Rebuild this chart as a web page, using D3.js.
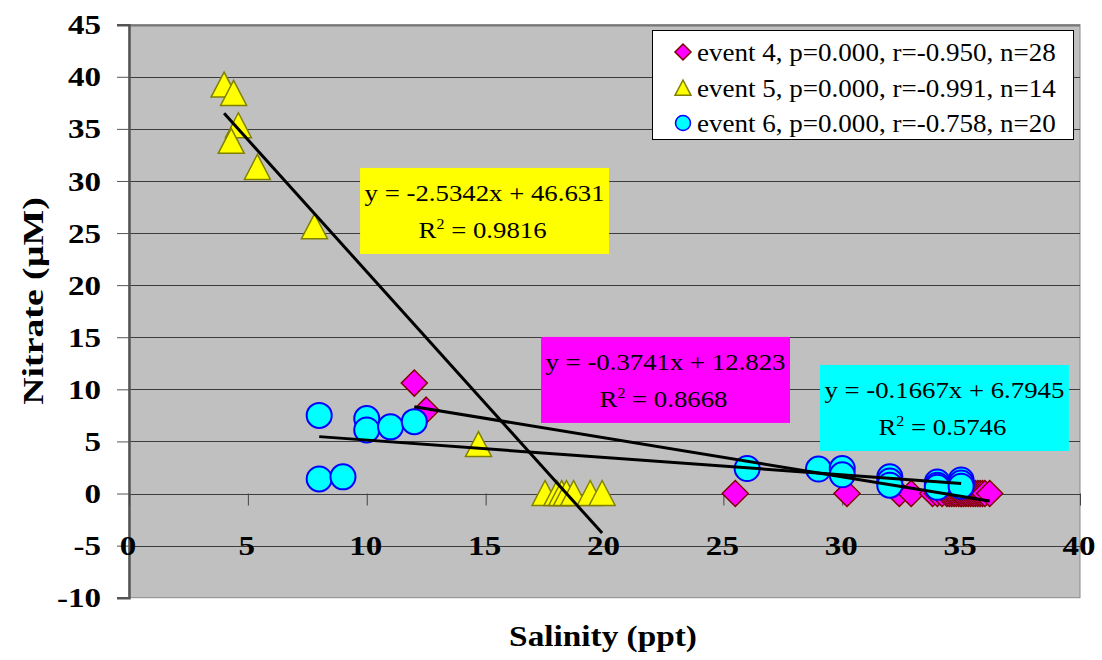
<!DOCTYPE html>
<html>
<head>
<meta charset="utf-8">
<script src="https://cdn.jsdelivr.net/npm/d3@7"></script>
<style>
  html, body { margin: 0; padding: 0; background: #ffffff; }
  svg { display: block; }
  text { font-family: "Liberation Serif", "Times New Roman", serif; fill: #000; }
</style>
</head>
<body>
<svg id="chart" width="1102" height="660"></svg>
<script>
// ---------------- data ----------------
const xTicks = [0, 5, 10, 15, 20, 25, 30, 35, 40];
const yTicks = [-10, -5, 0, 5, 10, 15, 20, 25, 30, 35, 40, 45];

// event 4 (magenta diamonds)
const event4X = [12.0, 12.5, 25.5, 30.2, 32.4, 32.9, 33.8, 34.0, 34.2, 34.4, 34.5, 34.6, 34.7, 34.8,
                 34.9, 35.0, 35.0, 35.1, 35.2, 35.3, 35.4, 35.5, 35.6, 35.7, 35.8, 35.9, 36.0, 36.2];
const event4Y = [10.6, 8.0, 0, 0, 0, 0, 0, 0, 0, 0, 0, 0, 0, 0,
                 0, 0, 0, 0, 0, 0, 0, 0, 0, 0, 0, 0, 0, 0];
// event 5 (yellow triangles)
const event5X = [4.0, 4.4, 4.6, 4.3, 5.4, 7.8, 14.7, 17.5, 18.0, 18.2, 18.4, 18.7, 19.4, 19.9];
const event5Y = [39.2, 38.4, 35.3, 33.8, 31.3, 25.6, 4.7, 0, 0, 0, 0, 0, 0, 0];
// event 6 (cyan circles)
const event6X = [8.0, 10.0, 10.0, 11.0, 12.0, 8.0, 9.0, 26.0, 29.0, 30.0, 30.0, 32.0, 32.0, 32.0,
                 34.0, 34.0, 34.0, 35.0, 35.0, 35.0];
const event6Y = [7.5, 7.2, 6.1, 6.4, 6.9, 1.4, 1.6, 2.4, 2.35, 2.4, 1.8, 1.6, 1.2, 0.8,
                 1.1, 0.8, 0.6, 1.3, 1.0, 0.7];

const seriesNames = ["event 4, p=0.000, r=-0.950, n=28",
                     "event 5, p=0.000, r=-0.991, n=14",
                     "event 6, p=0.000, r=-0.758, n=20"];
const slopes = [-0.3741, -2.5342, -0.1667];
const intercepts = [12.823, 46.631, 6.7945];
const equations = ["y = -0.3741x + 12.823", "y = -2.5342x + 46.631", "y = -0.1667x + 6.7945"];
const r2Values = ["0.8668", "0.9816", "0.5746"];
// equation label anchors (top-left corner, in data units)
const labelX = [17.33, 9.72, 29.06];
const labelY = [15.03, 31.25, 12.34];

const xTitle = "Salinity (ppt)";
const yTitle = "Nitrate (µM)";

// ---------------- chart ----------------
const svg = d3.select("#chart");
const x = d3.scaleLinear().domain([0, 40]).range([129, 1080]);
const y = d3.scaleLinear().domain([-10, 45]).range([597.7, 24.7]);

const fills = ["#FF00FF", "#FFFF00", "#00FFFF"];
const strokes = ["#800000", "#808000", "#0000FF"];

function stext(parent, px, py, str, o) {
  const g = parent.append("g")
    .attr("transform", `translate(${px},${py}) rotate(${o.rot || 0}) scale(${o.sx || 1},1)`);
  return g.append("text")
    .attr("text-anchor", o.anchor || "middle")
    .attr("dy", o.dy || "0.34em")
    .attr("font-size", o.size)
    .attr("font-weight", o.weight || "normal")
    .text(str);
}

// plot area
svg.append("rect")
  .attr("x", x(0)).attr("y", y(45))
  .attr("width", x(40) - x(0)).attr("height", y(-10) - y(45))
  .attr("fill", "#C0C0C0")
  .attr("stroke", "#8a8a8a").attr("stroke-width", 1);

// gridlines
svg.append("g").selectAll("line")
  .data(yTicks.filter(d => d > -10))
  .join("line")
  .attr("x1", x(0)).attr("x2", x(40))
  .attr("y1", d => Math.round(y(d)) + 0.5).attr("y2", d => Math.round(y(d)) + 0.5)
  .attr("stroke", d => d === 45 ? "#777" : "#3c3c3c")
  .attr("stroke-width", d => d === 45 ? 2 : 1);

// y axis ticks via d3 axis
const yAxis = svg.append("g")
  .attr("transform", `translate(${x(0)},0)`)
  .call(d3.axisLeft(y).tickValues(yTicks).tickSize(12).tickFormat(""));
yAxis.select(".domain").attr("stroke", "#555").attr("stroke-width", 2.5);
yAxis.selectAll(".tick line").attr("stroke", "#555").attr("stroke-width", 1);

// x axis ticks at y = 0
const xAxis = svg.append("g")
  .attr("transform", `translate(0,${y(0)})`)
  .call(d3.axisBottom(x).tickValues(xTicks).tickSize(12).tickFormat(""));
xAxis.select(".domain").remove();
xAxis.selectAll(".tick line").attr("stroke", "#444").attr("stroke-width", 1);

// y tick labels
yTicks.forEach(t => stext(svg, 101, y(t), String(t), {size: 28, weight: "bold", anchor: "end", sx: 1.18}));
// x tick labels (placed at y = -5 like the original)
xTicks.forEach(t => stext(svg, x(t) - 1, y(-5), String(t), {size: 28, weight: "bold", anchor: "middle", sx: 1.18}));

// axis titles
stext(svg, 603, 636, xTitle, {size: 30, weight: "bold", sx: 1.11});
stext(svg, 33, 301, yTitle, {size: 30, weight: "bold", sx: 1.26, rot: -90});

// markers
const diamond = s => `M0,${-s}L${s},0L0,${s}L${-s},0Z`;
const triangle = s => `M0,${-s}L${s},${s * 0.92}L${-s},${s * 0.92}Z`;

const e4 = event4X.map((v, i) => ({x: v, y: event4Y[i]}));
const e5 = event5X.map((v, i) => ({x: v, y: event5Y[i]}));
const e6 = event6X.map((v, i) => ({x: v, y: event6Y[i]}));

svg.append("g").selectAll("path").data(e4).join("path")
  .attr("d", diamond(13))
  .attr("transform", d => `translate(${x(d.x)},${y(d.y)})`)
  .attr("fill", fills[0]).attr("stroke", strokes[0]).attr("stroke-width", 1.5);

svg.append("g").selectAll("path").data(e5).join("path")
  .attr("d", triangle(13))
  .attr("transform", d => `translate(${x(d.x)},${y(d.y)})`)
  .attr("fill", fills[1]).attr("stroke", strokes[1]).attr("stroke-width", 1.5);

svg.append("g").selectAll("circle").data(e6).join("circle")
  .attr("cx", d => x(d.x)).attr("cy", d => y(d.y)).attr("r", 12.5)
  .attr("fill", fills[2]).attr("stroke", strokes[2]).attr("stroke-width", 2);

// trend lines
[event4X, event5X, event6X].forEach((xs, i) => {
  const [a, b] = d3.extent(xs);
  svg.append("line")
    .attr("x1", x(a)).attr("y1", y(slopes[i] * a + intercepts[i]))
    .attr("x2", x(b)).attr("y2", y(slopes[i] * b + intercepts[i]))
    .attr("stroke", "#000").attr("stroke-width", 3);
});

// equation labels
const boxW = 249, boxH = 86;
equations.forEach((eq, i) => {
  const bx = x(labelX[i]), by = y(labelY[i]);
  svg.append("rect").attr("x", bx).attr("y", by).attr("width", boxW).attr("height", boxH)
    .attr("fill", fills[i]);
  stext(svg, bx + boxW / 2, by + 25, eq, {size: 23.5, sx: 1.14});
  const t = stext(svg, bx + boxW / 2 - 2, by + 62, "", {size: 23.5, sx: 1.14});
  t.append("tspan").text("R");
  t.append("tspan").attr("font-size", 14).attr("dy", "-9").text("2");
  t.append("tspan").attr("dy", "9").text(" = " + r2Values[i]);
});

// legend
const lg = svg.append("g");
lg.append("rect").attr("x", 652.5).attr("y", 30.5).attr("width", 421).attr("height", 109)
  .attr("fill", "#fff").attr("stroke", "#000").attr("stroke-width", 1);
const rowY = [52, 88, 123];
seriesNames.forEach((name, i) => {
  const cy = rowY[i];
  if (i === 0) lg.append("path").attr("d", diamond(8)).attr("transform", `translate(683,${cy})`)
    .attr("fill", fills[0]).attr("stroke", strokes[0]).attr("stroke-width", 1.5);
  if (i === 1) lg.append("path").attr("d", triangle(8)).attr("transform", `translate(683,${cy})`)
    .attr("fill", fills[1]).attr("stroke", strokes[1]).attr("stroke-width", 1.5);
  if (i === 2) lg.append("circle").attr("cx", 683).attr("cy", cy).attr("r", 7.5)
    .attr("fill", fills[2]).attr("stroke", strokes[2]).attr("stroke-width", 1.5);
  stext(lg, 697, cy, name, {size: 26, anchor: "start", sx: 1.04});
});
</script>
</body>
</html>
